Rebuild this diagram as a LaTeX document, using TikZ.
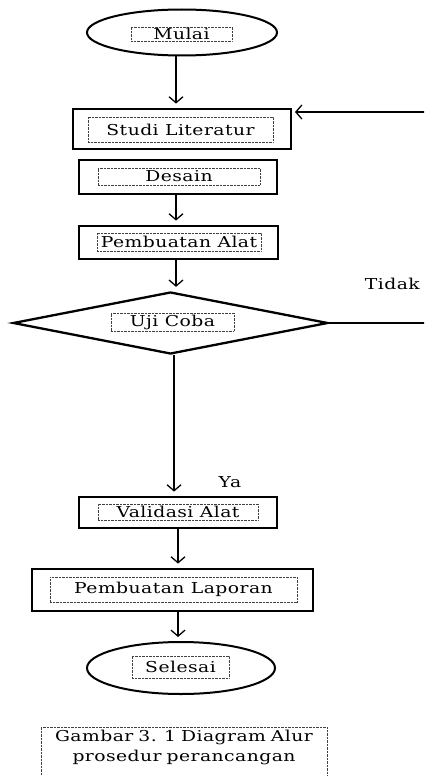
\documentclass[tikz,border=0pt]{standalone}
\usepackage{fontspec}
\setmainfont{DejaVu Serif}[FakeStretch=1.25, LetterSpace=3]
\usetikzlibrary{shapes.geometric,arrows.meta}
\tikzset{
  stepbox/.style={draw, rectangle, line width=2.8pt, inner sep=0pt},
  endbox/.style={draw, ellipse, line width=2pt, inner sep=0pt},
  testbox/.style={draw, diamond, line width=2.3pt, inner sep=0pt},
  txtbox/.style={draw=black!75, line width=0.7pt, dash pattern=on 0.7pt off 0.7pt,
    inner sep=0pt, font=\fontsize{15}{20}\selectfont},
  lbl/.style={inner sep=0pt, font=\fontsize{15}{20}\selectfont},
  flow/.style={line width=1.3pt, shorten >=4pt, -{Straight Barb[length=6pt,width=14pt]}}
}
\begin{document}
\begin{tikzpicture}[x=1pt,y=-1pt]
  \useasboundingbox (0,0) rectangle (424,776);
  \clip (0,0) rectangle (424,776);
  \draw
    (182,32.5) node[endbox, minimum width=190pt, minimum height=46pt] (mulai){}
    (182,129) node[stepbox, minimum width=218pt, minimum height=40pt] (studi){}
    (178,177) node[stepbox, minimum width=198pt, minimum height=34pt] (desain){}
    (178.5,242.5) node[stepbox, minimum width=199pt, minimum height=33pt] (alat){}
    (170.5,323) node[testbox, minimum width=315pt, minimum height=62pt] (uji){}
    (178,512.5) node[stepbox, minimum width=198pt, minimum height=31pt] (validasi){}
    (172.5,590) node[stepbox, minimum width=281pt, minimum height=42pt] (laporan){}
    (181,668) node[endbox, minimum width=188pt, minimum height=52pt] (selesai){};
  \draw
    (181.5,34) node[txtbox, minimum width=101pt, minimum height=14pt] (mulai-t){Mulai}
    (180.5,129.5) node[txtbox, minimum width=185pt, minimum height=25pt] (studi-t){Studi Literatur}
    (179,176.5) node[txtbox, minimum width=162pt, minimum height=17pt] (desain-t){Desain}
    (179,242) node[txtbox, minimum width=164pt, minimum height=18pt] (alat-t){Pembuatan Alat}
    (172.5,322) node[txtbox, minimum width=123pt, minimum height=18pt] (uji-t){Uji Coba}
    (178,512) node[txtbox, minimum width=160pt, minimum height=16pt] (validasi-t){Validasi Alat}
    (173.5,589.5) node[txtbox, minimum width=247pt, minimum height=25pt] (laporan-t){Pembuatan Laporan}
    (180.5,667) node[txtbox, minimum width=97pt, minimum height=22pt] (selesai-t){Selesai}
    (184,727) node[txtbox, anchor=north, text width=286pt, align=center,
      inner ysep=3pt, text depth=40pt] (caption){Gambar 3. 1 Diagram Alur\\prosedur perancangan}
    (420,284) node[lbl, anchor=east] (tidak){Tidak}
    (230,482) node[lbl] (ya){Ya};
  \coordinate (sp1) at (176,0);
  \coordinate (sp2) at (174,0);
  \coordinate (sp3) at (178,0);
  \coordinate (fb-in) at (291,112);
  \begin{scope}[flow]
    \draw (mulai.south -| sp1) to (studi.north -| sp1);
    \draw (desain.south -| sp1) to (alat.north -| sp1);
    \draw (alat.south -| sp1) to (uji.north -| sp1);
    \draw (uji.south -| sp2) to (validasi.north -| sp2);
    \draw (validasi.south -| sp3) to (laporan.north -| sp3);
    \draw (laporan.south -| sp3) to (selesai.north -| sp3);
    \draw (uji.east) -- ++(120,0) |- (fb-in);
  \end{scope}
\end{tikzpicture}
\end{document}
